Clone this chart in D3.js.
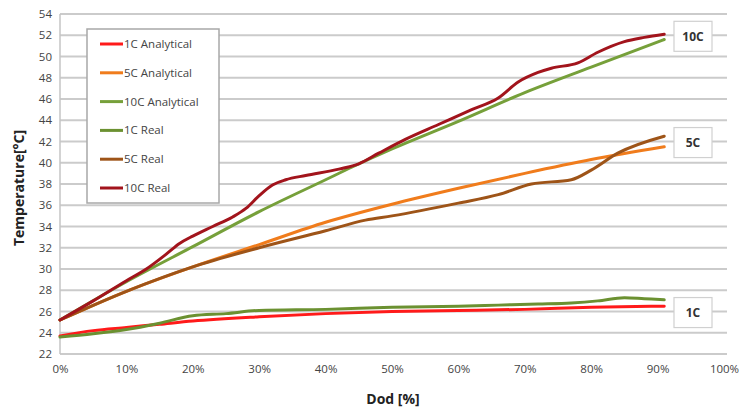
<!DOCTYPE html>
<html>
<head>
<meta charset="utf-8">
<script src="https://cdn.jsdelivr.net/npm/d3@7"></script>
<style>
  html, body { margin: 0; padding: 0; background: #fff; }
  svg { display: block; }
  text { font-family: "Open Sans", "DejaVu Sans", sans-serif; }
</style>
</head>
<body>
<svg id="chart" width="743" height="412"></svg>
<script>
// ---- Data ----
const seriesNames = ["1C Analytical", "5C Analytical", "10C Analytical", "1C Real", "5C Real", "10C Real"];
const seriesColors = ["#ff1a1a", "#f07c1c", "#76a03a", "#6b9131", "#9e5418", "#a2141c"];

const dod1CAnalytical = [0, 5, 10, 15, 20, 30, 40, 50, 60, 70, 80, 91];
const temp1CAnalytical = [23.7, 24.2, 24.5, 24.8, 25.1, 25.5, 25.8, 26.0, 26.1, 26.2, 26.4, 26.5];

const dod5CAnalytical = [0, 10, 20, 30, 40, 50, 60, 70, 80, 91];
const temp5CAnalytical = [25.2, 27.9, 30.2, 32.3, 34.4, 36.1, 37.6, 39.0, 40.3, 41.5];

const dod10CAnalytical = [0, 10, 20, 30, 40, 44, 50, 60, 70, 80, 91];
const temp10CAnalytical = [25.2, 28.8, 32.1, 35.4, 38.4, 39.6, 41.3, 43.9, 46.6, 49.0, 51.6];

const dod1CReal = [0, 5, 10, 15, 20, 25, 30, 40, 50, 60, 66, 72, 77, 81, 85, 88, 91];
const temp1CReal = [23.6, 23.9, 24.3, 24.9, 25.6, 25.8, 26.1, 26.2, 26.4, 26.5, 26.6, 26.7, 26.8, 27.0, 27.3, 27.2, 27.1];

const dod5CReal = [0, 10, 20, 30, 40, 46, 50, 60, 66, 71, 77, 80, 84, 91];
const temp5CReal = [25.2, 27.9, 30.2, 32.0, 33.6, 34.6, 35.0, 36.2, 37.0, 38.0, 38.4, 39.3, 40.9, 42.5];

const dod10CReal = [0, 5, 10, 13, 16, 18, 20, 23, 26, 28, 30, 32, 34, 37, 42, 45, 48, 52, 57, 62, 66, 69, 72, 74, 78, 81, 85, 88, 91];
const temp10CReal = [25.2, 27.0, 28.9, 30.0, 31.4, 32.4, 33.1, 34.0, 34.9, 35.7, 36.9, 37.9, 38.4, 38.8, 39.4, 39.9, 40.9, 42.2, 43.6, 45.0, 46.1, 47.6, 48.5, 48.9, 49.4, 50.4, 51.4, 51.8, 52.1];

const xTicks = [0, 10, 20, 30, 40, 50, 60, 70, 80, 90, 100];
const yTicks = [22, 24, 26, 28, 30, 32, 34, 36, 38, 40, 42, 44, 46, 48, 50, 52, 54];

const endLabels = [
  { text: "10C", value: 51.9 },
  { text: "5C", value: 41.9 },
  { text: "1C", value: 25.9 }
];

// ---- Chart ----
const svg = d3.select("#chart");
const x = d3.scaleLinear().domain([0, 100]).range([60, 724]);
const y = d3.scaleLinear().domain([22, 54]).range([354, 14]);

// gridlines
svg.append("g")
  .selectAll("line")
  .data(yTicks)
  .join("line")
  .attr("x1", x(0)).attr("x2", 727)
  .attr("y1", d => y(d)).attr("y2", d => y(d))
  .attr("stroke", "#cbcbcb").attr("stroke-width", 2.2);

// y axis line
svg.append("line")
  .attr("x1", x(0)).attr("x2", x(0))
  .attr("y1", y(54)).attr("y2", y(22))
  .attr("stroke", "#c4c4c4").attr("stroke-width", 1.5);

// y tick labels
const yAxis = d3.axisLeft(y).tickValues(yTicks).tickSize(0).tickPadding(8);
const gy = svg.append("g").attr("transform", `translate(${x(0)},0)`).call(yAxis);
gy.select(".domain").remove();
gy.selectAll("text").attr("font-size", 11.5).attr("fill", "#444")
  .style("font-family", '"Open Sans", sans-serif');

// x tick labels
const xAxis = d3.axisBottom(x).tickValues(xTicks).tickSize(0).tickPadding(11).tickFormat(d => d + "%");
const gx = svg.append("g").attr("transform", `translate(0,${y(22)})`).call(xAxis);
gx.select(".domain").remove();
gx.selectAll("text").attr("font-size", 11.5).attr("fill", "#444")
  .style("font-family", '"Open Sans", sans-serif');

// axis titles
svg.append("text")
  .attr("x", 393).attr("y", 404)
  .attr("text-anchor", "middle")
  .attr("font-size", 14).attr("font-weight", "bold").attr("fill", "#222")
  .text("Dod [%]");
svg.append("text")
  .attr("transform", "translate(24,188) rotate(-90)")
  .attr("text-anchor", "middle")
  .attr("font-size", 14).attr("font-weight", "bold").attr("fill", "#222")
  .text("Temperature[°C]");

// series
const series = [
  { name: seriesNames[0], xs: dod1CAnalytical, ys: temp1CAnalytical, color: seriesColors[0] },
  { name: seriesNames[1], xs: dod5CAnalytical, ys: temp5CAnalytical, color: seriesColors[1] },
  { name: seriesNames[2], xs: dod10CAnalytical, ys: temp10CAnalytical, color: seriesColors[2] },
  { name: seriesNames[3], xs: dod1CReal, ys: temp1CReal, color: seriesColors[3] },
  { name: seriesNames[4], xs: dod5CReal, ys: temp5CReal, color: seriesColors[4] },
  { name: seriesNames[5], xs: dod10CReal, ys: temp10CReal, color: seriesColors[5] }
];
const line = d3.line().x(d => x(d[0])).y(d => y(d[1])).curve(d3.curveMonotoneX);
svg.append("g")
  .selectAll("path")
  .data(series)
  .join("path")
  .attr("d", s => line(s.xs.map((v, i) => [v, s.ys[i]])))
  .attr("fill", "none")
  .attr("stroke", s => s.color)
  .attr("stroke-width", 3)
  .attr("stroke-linejoin", "round")
  .attr("stroke-linecap", "round");

// end labels
const lbl = svg.append("g").selectAll("g").data(endLabels).join("g")
  .attr("transform", d => `translate(693,${y(d.value)})`);
lbl.append("rect")
  .attr("x", -19).attr("y", -15).attr("width", 38).attr("height", 30)
  .attr("fill", "#fff").attr("stroke", "#d0d0d0").attr("stroke-width", 1.2);
lbl.append("text")
  .attr("text-anchor", "middle").attr("dy", "0.35em")
  .attr("font-size", 12).attr("font-weight", "bold").attr("fill", "#333")
  .text(d => d.text);

// legend
const legend = svg.append("g");
legend.append("rect")
  .attr("x", 87).attr("y", 29).attr("width", 132).attr("height", 174)
  .attr("fill", "#fff").attr("stroke", "#a8a8a8").attr("stroke-width", 1.5);
const li = legend.selectAll("g.item").data(series).join("g").attr("class", "item")
  .attr("transform", (d, i) => `translate(100,${44 + i * 28.8})`);
li.append("line").attr("x1", 0).attr("x2", 23).attr("y1", 0).attr("y2", 0)
  .attr("stroke", d => d.color).attr("stroke-width", 3);
li.append("text").attr("x", 24).attr("dy", "0.35em")
  .attr("font-size", 11.5).attr("fill", "#444")
  .text(d => d.name);
</script>
</body>
</html>
